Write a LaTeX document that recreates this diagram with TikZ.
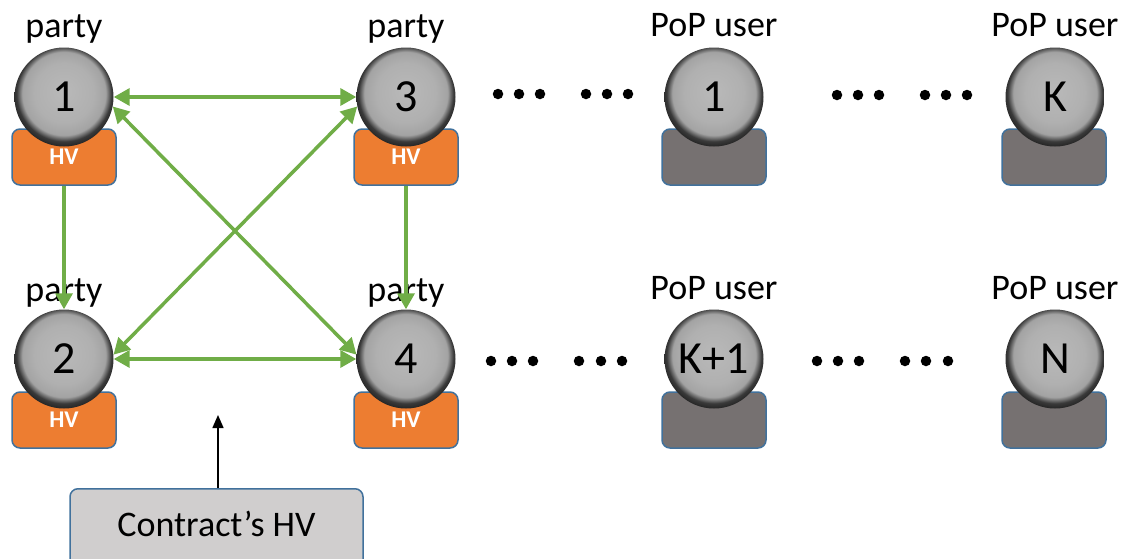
\documentclass[tikz,border=0pt]{standalone}
\usepackage{fontspec}
\setmainfont{Carlito}
\usetikzlibrary{arrows.meta}
\definecolor{hvorange}{HTML}{ED7D31}
\definecolor{edgeblue}{HTML}{41719C}
\definecolor{popgray}{HTML}{767171}
\definecolor{linkgreen}{HTML}{70AD47}
\definecolor{contractgray}{HTML}{D0CECE}
\pgfdeclareradialshading{grayball}{\pgfpoint{0bp}{3bp}}{color(0bp)=(gray!55); color(15bp)=(gray!62); color(21bp)=(gray!72); color(24bp)=(gray!45!black); color(27bp)=(gray!25!black); color(50bp)=(gray!25!black)}
\tikzset{
  ball/.style={circle, minimum size=99pt, inner sep=0pt, shading=grayball, font=\fontsize{46}{46}\selectfont},
  hvbox/.style={rectangle, rounded corners=8pt, fill=hvorange, draw=edgeblue, line width=1.5pt, minimum width=104pt, minimum height=56pt, inner sep=0pt, text=white, font=\bfseries\fontsize{24}{24}\selectfont},
  popbox/.style={rectangle, rounded corners=8pt, fill=popgray, draw=edgeblue, line width=1.5pt, minimum width=104pt, minimum height=56pt, inner sep=0pt},
  lbl/.style={anchor=base, font=\fontsize{36}{36}\selectfont, inner sep=0pt},
  link/.style={draw=linkgreen, line width=3.5pt},
  tipg/.tip={Triangle[length=16pt,width=17pt]},
  dotmark/.style={circle, fill=black, minimum size=10.5pt, inner sep=0pt},
  cbox/.style={rectangle, rounded corners=8pt, fill=contractgray, draw=edgeblue, line width=1.5pt, minimum width=293pt, minimum height=90pt, inner sep=0pt, anchor=north}
}
\begin{document}
\begin{tikzpicture}[x=1pt,y=-1pt]
\useasboundingbox (0,0) rectangle (1128,558);
% boxes
\node[hvbox] (hv1) at (64,157) {\raisebox{-3pt}{HV}};
\node[hvbox] (hv3) at (406,157) {\raisebox{-3pt}{HV}};
\node[popbox] (pb1) at (714,157) {};
\node[popbox] (pbK) at (1054,157) {};
\node[hvbox] (hv2) at (64,420) {\raisebox{-3pt}{HV}};
\node[hvbox] (hv4) at (406,420) {\raisebox{-3pt}{HV}};
\node[popbox] (pbK1) at (714,420) {};
\node[popbox] (pbN) at (1054,420) {};
% balls
\node[ball] (p1) at (64,97) {1};
\node[ball] (p3) at (406,97) {3};
\node[ball] (u1) at (714,97) {1};
\node[ball] (uK) at (1055,97) {K};
\node[ball] (p2) at (64,359) {2};
\node[ball] (p4) at (406,359) {4};
\node[ball] (uK1) at (714,359) {K+1};
\node[ball] (uN) at (1055,359) {N};
% labels
\node[lbl] (l1) at (64,37) {party};
\node[lbl] (l3) at (406,37) {party};
\node[lbl] (lu1) at (714,36) {PoP user};
\node[lbl] (luK) at (1055,36) {PoP user};
\node[lbl] (l2) at (64,301) {party};
\node[lbl] (l4) at (406,301) {party};
\node[lbl] (luK1) at (714,299) {PoP user};
\node[lbl] (luN) at (1055,299) {PoP user};
% links
\draw[link, tipg-tipg] (p1) -- (p3);
\draw[link, tipg-tipg] (p2) -- (p4);
\draw[link, tipg-tipg] (p1.-11) -- (p4.175);
\draw[link, tipg-tipg] (p3.191) -- (p2.5);
\draw[link, -tipg] (hv1.south) -- (p2.north);
\draw[link, -tipg] (hv3.south) -- (p4.north);
% dots
\foreach \x [count=\i] in {498,519,540,586,607,628} {\node[dotmark] (da\i) at (\x,94) {};}
\foreach \x [count=\i] in {837,858,879,925,946,967} {\node[dotmark] (db\i) at (\x,95) {};}
\foreach \x [count=\i] in {491,512,533,579,601,622} {\node[dotmark] (dc\i) at (\x,361) {};}
\foreach \x [count=\i] in {817,838,859,905,926,948} {\node[dotmark] (dd\i) at (\x,361) {};}
% contract box
\begin{scope}
\clip (0,0) rectangle (1128,558);
\node[cbox] (contract) at (216.5,488) {};
\end{scope}
\node[anchor=base, font=\fontsize{36}{36}\selectfont, inner sep=0pt] (ctext) at (216.5,536) {Contract’s HV};
\coordinate (tgt) at (218,415);
\draw[line width=1.5pt, -{Triangle[length=13pt,width=11pt]}] (contract.north -| tgt) -- (tgt);
\end{tikzpicture}
\end{document}
